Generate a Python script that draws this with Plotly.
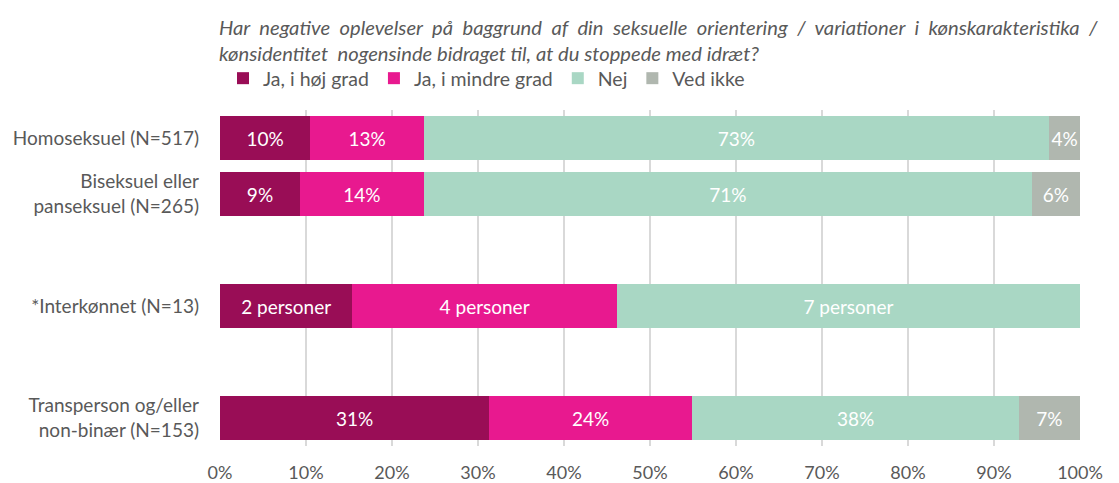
import plotly.graph_objects as go

categories = ["Homoseksuel (N=517)", "Biseksuel eller<br>panseksuel (N=265)", "", "*Interkønnet (N=13)", "", "Transperson og/eller<br>non-binær (N=153)"]
rows = [0, 1, 3, 5]
series_names = ["Ja, i høj grad", "Ja, i mindre grad", "Nej", "Ved ikke"]
values = {
    "Ja, i høj grad":   [10.5, 9.3, 100 * 2 / 13, 31.3],
    "Ja, i mindre grad": [13.2, 14.4, 100 * 4 / 13, 23.6],
    "Nej":              [72.7, 70.7, 100 * 7 / 13, 38.0],
    "Ved ikke":         [3.6, 5.6, 0, 7.1],
}
labels = {
    "Ja, i høj grad":   ["10%", "9%", "2 personer", "31%"],
    "Ja, i mindre grad": ["13%", "14%", "4 personer", "24%"],
    "Nej":              ["73%", "71%", "7 personer", "38%"],
    "Ved ikke":         ["4%", "6%", "", "7%"],
}
colors = ["#990D56", "#E8198F", "#A9D7C4", "#B0B7AF"]
tick_vals = [0, 10, 20, 30, 40, 50, 60, 70, 80, 90, 100]
tick_text = [f"{v}%" for v in tick_vals]
title_line1 = "Har negative oplevelser på baggrund af din seksuelle orientering / variationer i kønskarakteristika /"
title_line2 = "kønsidentitet&nbsp; nogensinde bidraget til, at du stoppede med idræt?"

FONT = "Lato"
GREY = "#595959"
fig = go.Figure()
for name, col in zip(series_names, colors):
    fig.add_trace(go.Bar(
        y=rows, x=values[name], name=name, orientation="h",
        marker=dict(color=col, line=dict(width=0)),
        text=labels[name], textposition="inside", insidetextanchor="middle", textangle=0,
        textfont=dict(color="white", size=19, family=FONT),
        constraintext="none", cliponaxis=False,
    ))

# page body has an 8px margin; figure is offset accordingly
fig.update_layout(
    barmode="stack", bargap=0.2,
    width=1111, height=475,
    margin=dict(l=212, r=39, t=102, b=37, autoexpand=False),
    plot_bgcolor="white", paper_bgcolor="white",
    font=dict(family=FONT, size=18, color=GREY),
    uniformtext=dict(mode="show", minsize=10),
    legend=dict(orientation="h", x=3 / 860, xanchor="left", yref="container",
                y=1 - 51 / 475, yanchor="top", itemwidth=30,
                font=dict(size=19.5, color=GREY), traceorder="normal", itemclick=False),
    showlegend=True,
    xaxis=dict(range=[0, 100], tickvals=tick_vals, ticktext=tick_text, showgrid=True,
               gridcolor="#D9D9D9", gridwidth=1.5, zeroline=False, showline=False,
               ticklabelstandoff=14, tickfont=dict(size=18), automargin=False),
    yaxis=dict(range=[5.5, -0.5], tickvals=list(range(6)), ticktext=categories, showgrid=False,
               zeroline=False, ticklabelstandoff=20, tickfont=dict(size=19), automargin=False),
    annotations=[dict(
        xref="paper", yref="paper", x=-3 / 860, y=(438 - 5) / 336, xanchor="left", yanchor="top", align="left",
        showarrow=False,
        text="<i>" + "&nbsp; ".join(title_line1.split(" ")) + "<br>" + title_line2 + "</i>",
        font=dict(size=20.2, color=GREY, family=FONT),
    )],
)
fig.write_html("out.html")
